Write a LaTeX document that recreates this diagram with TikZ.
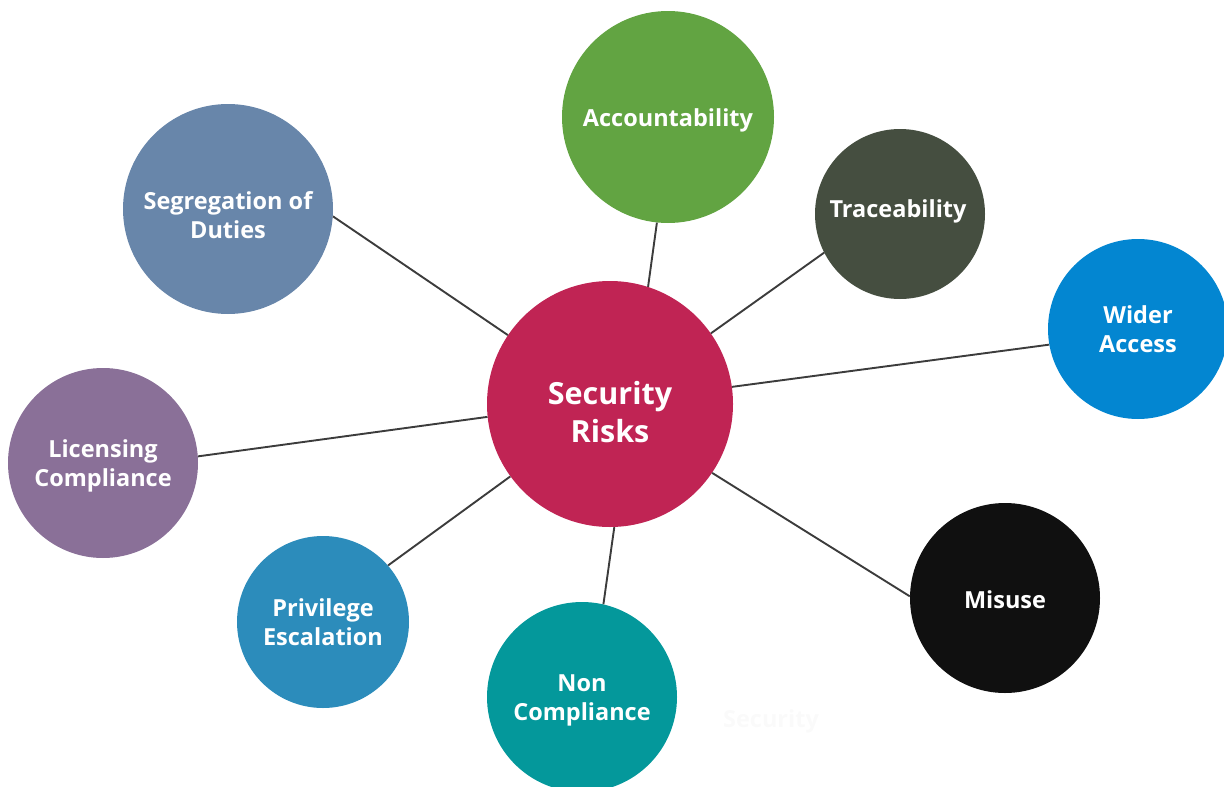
\documentclass[tikz,border=0pt]{standalone}
\usepackage{fontspec}
\setmainfont{Open Sans}
\usetikzlibrary{positioning}
\definecolor{riskred}{RGB}{192,36,84}
\definecolor{accgreen}{RGB}{98,164,66}
\definecolor{tracegray}{RGB}{69,78,64}
\definecolor{widerblue}{RGB}{3,134,209}
\definecolor{misuseblack}{RGB}{16,16,16}
\definecolor{nonteal}{RGB}{4,152,155}
\definecolor{privblue}{RGB}{44,140,187}
\definecolor{licpurple}{RGB}{138,112,152}
\definecolor{segslate}{RGB}{104,134,170}
\definecolor{linkgray}{RGB}{60,60,60}

\begin{document}
\begin{tikzpicture}[x=1pt,y=-1pt,
      bubble/.style={circle,fill=#1,inner sep=0pt},
      tag/.style={text=white,align=center,inner sep=0pt,
        font=\fontsize{23.5}{29}\selectfont\bfseries},
      link/.style={draw=linkgray,line width=1.9pt}]
      \useasboundingbox (0,0) rectangle (1224,787);
      % circles
      \node[bubble=riskred,minimum size=246pt] (risks) at (610,404) {};
      \node[bubble=accgreen,minimum size=212pt] (acc) at (668,117) {};
      \node[bubble=tracegray,minimum size=170pt] (trace) at (900,214) {};
      \node[bubble=widerblue,minimum size=180pt] (wider) at (1138,329) {};
      \node[bubble=misuseblack,minimum size=190pt] (misuse) at (1005,598) {};
      \node[bubble=nonteal,minimum size=190pt] (noncomp) at (582,697) {};
      \node[bubble=privblue,minimum size=172pt] (priv) at (323,622) {};
      \node[bubble=licpurple,minimum size=190pt] (lic) at (103,463) {};
      \node[bubble=segslate,minimum size=210pt] (seg) at (228,209) {};
      % labels
      \node[tag,font=\fontsize{30.5}{38}\selectfont\bfseries] (risks-t) at (610,412) {Security\\Risks};
      \node[tag] (acc-t) at (668,120) {Accountability};
      \node[tag] (trace-t) at (898,211) {Traceability};
      \node[tag] (wider-t) at (1138,329) {Wider\\Access};
      \node[tag] (misuse-t) at (1005,600) {Misuse};
      \node[tag] (noncomp-t) at (582,700) {Non\\Compliance};
      \node[tag] (priv-t) at (323,622) {Privilege\\Escalation};
      \node[tag] (lic-t) at (103,466) {Licensing\\Compliance};
      \node[tag] (seg-t) at (228,215) {Segregation of\\Duties};
      \node[tag,text=black!2] (ghost) at (771,721) {Security};
      % spokes out from the centre
      \draw[link] (risks.146) -- (seg.-4);
      \draw[link] (risks.72) -- (acc.264);
      \draw[link] (risks.35) -- (trace.207);
      \draw[link] (risks.8) -- (wider.190);
      \draw[link] (risks.-34) -- (misuse.179);
      \draw[link] (risks.-88) -- (noncomp.77);
      \draw[link] (risks.216) -- (priv.41);
      \draw[link] (risks.186) -- (lic.4);
\end{tikzpicture}
\end{document}
